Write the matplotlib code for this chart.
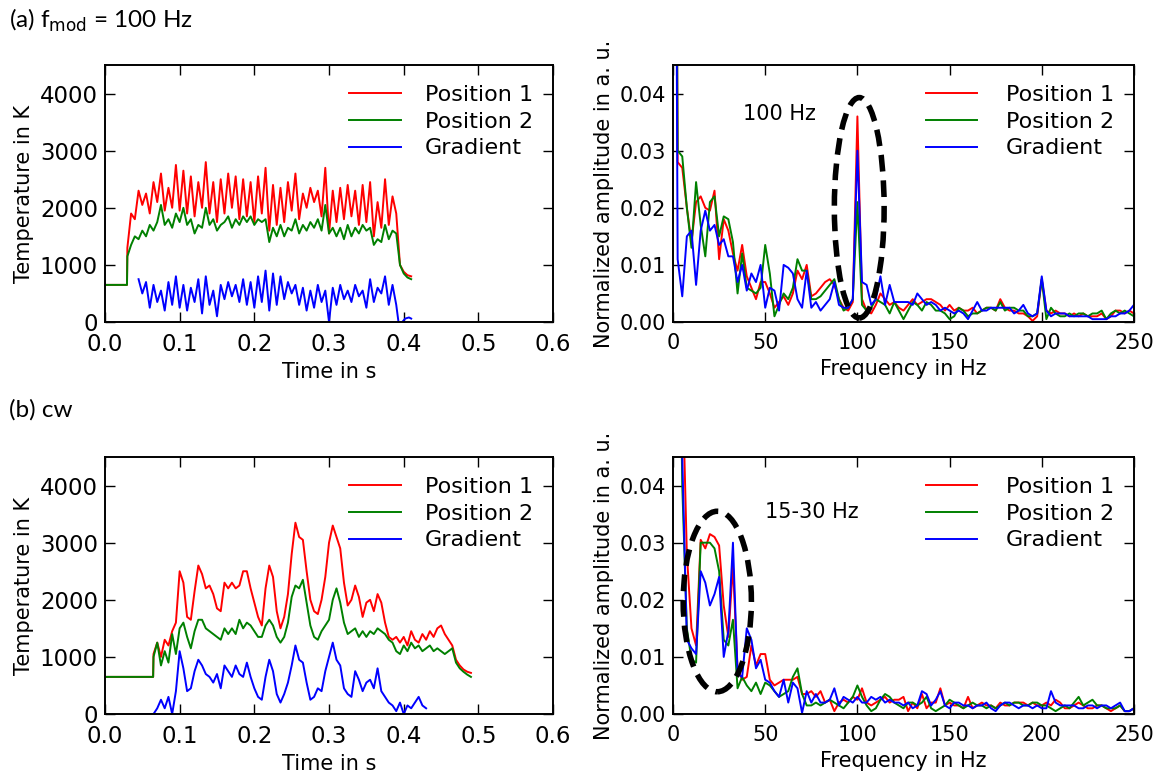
import numpy as np
import matplotlib
matplotlib.use("Agg")
import matplotlib.pyplot as plt
from matplotlib.patches import Ellipse

# ---------------- (a) f_mod = 100 Hz, time signals ----------------
t_a_main = np.round(np.arange(0.030, 0.3901, 0.005), 3)
t_a_pre = [0.0, 0.0295]
t_a_post = [0.395, 0.400, 0.405, 0.410]

pos1_a = [1300, 1900, 1800, 2300, 2050, 2250, 1900, 2450, 2100, 2600,
          1950, 2350, 2000, 2750, 1950, 2650, 1900, 2550, 1850, 2450,
          2000, 2800, 1900, 2450, 1750, 2500, 1900, 2600, 2000, 2550,
          1800, 2500, 1850, 2450, 1750, 2550, 1900, 2700, 1600, 2400,
          1700, 2350, 1750, 2450, 1950, 2600, 1800, 2250, 2000, 2350,
          2100, 2300, 1850, 2700, 1550, 2300, 1750, 2350, 1800, 2400,
          1850, 2300, 1700, 2400, 1750, 2450, 1500, 2100, 1650, 2500,
          1700, 2200, 1900]
pos2_a = [1150, 1350, 1500, 1450, 1600, 1500, 1700, 1600, 1750, 2050,
          1700, 1800, 1650, 1900, 1750, 2000, 1700, 1800, 1550, 1700,
          1650, 2000, 1700, 1800, 1600, 1700, 1750, 1850, 1650, 1800,
          1700, 1850, 1750, 1850, 1700, 1800, 1750, 1800, 1400, 1650,
          1500, 1700, 1500, 1650, 1600, 1800, 1550, 1700, 1600, 1750,
          1650, 1800, 1600, 2050, 1550, 1650, 1500, 1650, 1450, 1700,
          1500, 1650, 1550, 1700, 1600, 1650, 1350, 1450, 1400, 1700,
          1450, 1600, 1550]
pre_a = [650, 650]
pos1_a_post = [1000, 880, 820, 800]
pos2_a_post = [1000, 850, 780, 750]

t_grad_a = np.round(np.arange(0.045, 0.3901, 0.005), 3)
grad_a = [750, 500, 700, 250, 650, 350, 550, 200, 700, 300,
          800, 250, 650, 200, 600, 350, 750, 150, 800, 300,
          550, 100, 650, 400, 700, 450, 650, 350, 750, 300,
          700, 250, 800, 350, 900, 200, 850, 300, 800, 400,
          700, 500, 650, 300, 600, 200, 550, 250, 650, 350,
          550, 0, 600, 300, 650, 400, 550, 350, 650, 450,
          550, 250, 750, 350, 600, 500, 800, 300, 650, 300]
t_grad_a_post = [0.393, 0.398, 0.402, 0.407, 0.410]
grad_a_post = [0, 0, 60, 80, 60]

# ---------------- (b) cw, time signals ----------------
t_b_main = np.round(np.arange(0.065, 0.4901, 0.005), 3)
t_b_pre = [0.0, 0.0645]
pre_b = [650, 650]
pos1_b = [1050, 1250, 1000, 1300, 1200, 1450, 1600, 2500, 2300, 1700,
          1650, 2150, 2600, 2450, 2200, 2250, 2100, 1850, 1800, 2300,
          2200, 2300, 2200, 2250, 2500, 2500, 2200, 1950, 1700, 1550,
          2200, 2600, 2400, 1800, 1500, 1700, 2100, 2800, 3350, 3100,
          3050, 2500, 2000, 1800, 1750, 2000, 2400, 3000, 3300, 3100,
          2900, 2300, 1900, 2000, 2250, 2050, 1700, 1950, 2000, 1800,
          2100, 1950, 1600, 1350, 1300, 1350, 1250, 1350, 1200, 1450,
          1300, 1250, 1400, 1300, 1450, 1350, 1500, 1550, 1400, 1300,
          1200, 950, 850, 780, 740, 720]
pos2_b = [1000, 1250, 850, 1100, 900, 1400, 1050, 1500, 1600, 1350,
          1150, 1450, 1650, 1650, 1500, 1450, 1400, 1350, 1300, 1500,
          1400, 1500, 1400, 1650, 1500, 1600, 1550, 1450, 1350, 1350,
          1550, 1650, 1550, 1350, 1250, 1350, 1600, 2050, 2250, 2200,
          2350, 1950, 1550, 1350, 1300, 1450, 1550, 1650, 2000, 2200,
          1950, 1600, 1400, 1450, 1500, 1350, 1450, 1350, 1450, 1400,
          1500, 1450, 1400, 1300, 1250, 1100, 1050, 1200, 1100, 1250,
          1150, 1200, 1100, 1150, 1200, 1100, 1150, 1100, 1050, 1100,
          1150, 900, 800, 740, 690, 650]

t_grad_b_pre = [0.045, 0.060]
grad_b_pre = [0, 0]
t_grad_b = np.round(np.arange(0.065, 0.4301, 0.005), 3)
grad_b = [0, 100, 250, 100, 300, 0, 400, 1100, 800, 400,
          450, 750, 950, 850, 700, 650, 550, 700, 450, 850,
          750, 650, 850, 700, 650, 900, 650, 450, 300, 250,
          650, 950, 750, 350, 200, 350, 550, 850, 1200, 950,
          900, 550, 250, 300, 450, 400, 750, 1000, 1250, 950,
          850, 450, 350, 300, 750, 600, 400, 550, 600, 450,
          800, 400, 300, 200, 150, 50, 200, 0, 150, 100,
          200, 300, 150, 100]

# ---------------- spectra ----------------
freq = np.arange(0, 250.1, 2.5)

fft1_a = [0.2, 0.028, 0.027, 0.020, 0.014, 0.021, 0.022, 0.020, 0.0195, 0.023, 0.011,
          0.018, 0.016, 0.012, 0.009, 0.0135, 0.008, 0.006, 0.004, 0.007, 0.007,
          0.005, 0.0025, 0.0035, 0.0045, 0.003, 0.005, 0.009, 0.0075, 0.010, 0.0045,
          0.005, 0.006, 0.007, 0.0075, 0.0065, 0.004, 0.0025, 0.002, 0.0035, 0.036,
          0.004, 0.002, 0.0015, 0.003, 0.005, 0.004, 0.003, 0.0035, 0.0025, 0.002,
          0.003, 0.004, 0.003, 0.0035, 0.004, 0.004, 0.0035, 0.003, 0.002, 0.003,
          0.002, 0.0025, 0.002, 0.002, 0.0025, 0.0015, 0.002, 0.0025, 0.0025, 0.002,
          0.004, 0.0025, 0.002, 0.002, 0.0015, 0.0015, 0.001, 0.0002, 0.001, 0.0075,
          0.002, 0.0015, 0.002, 0.0015, 0.0015, 0.001, 0.0015, 0.001, 0.0015, 0.001,
          0.001, 0.001, 0.0015, 0.0005, 0.001, 0.002, 0.002, 0.0015, 0.002, 0.0015]
fft2_a = [0.2, 0.030, 0.029, 0.020, 0.013, 0.0245, 0.017, 0.0115, 0.021, 0.022, 0.015,
          0.0185, 0.018, 0.014, 0.005, 0.012, 0.006, 0.0055, 0.005, 0.006, 0.0135,
          0.0085, 0.001, 0.003, 0.005, 0.004, 0.006, 0.011, 0.009, 0.009, 0.004,
          0.004, 0.0045, 0.0055, 0.0065, 0.0075, 0.004, 0.002, 0.0025, 0.004, 0.021,
          0.003, 0.002, 0.0025, 0.004, 0.0035, 0.003, 0.0015, 0.0035, 0.002, 0.0005,
          0.002, 0.0035, 0.003, 0.002, 0.0035, 0.003, 0.002, 0.002, 0.0015, 0.0005,
          0.001, 0.0025, 0.002, 0.001, 0.0015, 0.0015, 0.002, 0.0025, 0.0025, 0.002,
          0.0035, 0.002, 0.0025, 0.0025, 0.002, 0.002, 0.001, 0.001, 0.0015, 0.0075,
          0.0005, 0.0025, 0.0015, 0.001, 0.001, 0.0015, 0.001, 0.0015, 0.0015, 0.001,
          0.0015, 0.0015, 0.002, 0.0005, 0.0015, 0.002, 0.0015, 0.002, 0.0015, 0.001]
fftg_a = [0.2, 0.011, 0.0045, 0.015, 0.016, 0.0065, 0.016, 0.0195, 0.016, 0.017, 0.0135,
          0.0145, 0.0115, 0.0115, 0.007, 0.010, 0.0055, 0.0085, 0.007, 0.010, 0.0025,
          0.006, 0.0055, 0.002, 0.010, 0.0095, 0.0085, 0.004, 0.0025, 0.009, 0.0025,
          0.0035, 0.002, 0.003, 0.004, 0.007, 0.003, 0.0025, 0.0025, 0.004, 0.030,
          0.007, 0.0065, 0.003, 0.004, 0.008, 0.003, 0.0065, 0.0035, 0.0035, 0.0035,
          0.0035, 0.003, 0.005, 0.004, 0.003, 0.0035, 0.003, 0.002, 0.0025, 0.002,
          0.0015, 0.002, 0.0015, 0.0005, 0.002, 0.0035, 0.002, 0.002, 0.0025, 0.0025,
          0.0025, 0.0025, 0.0025, 0.0015, 0.002, 0.003, 0.0015, 0.001, 0.0015, 0.008,
          0.002, 0.001, 0.0015, 0.0015, 0.0015, 0.001, 0.001, 0.001, 0.001, 0.001,
          0.0005, 0.0005, 0.0005, 0.0005, 0.001, 0.001, 0.0015, 0.0015, 0.002, 0.003]

fft1_b = [0.2, 0.12, 0.06, 0.028, 0.015, 0.012, 0.0305, 0.029, 0.0315, 0.031, 0.0295,
          0.019, 0.0135, 0.026, 0.008, 0.006, 0.0065, 0.012, 0.0085, 0.0105, 0.0105,
          0.006, 0.005, 0.0055, 0.006, 0.006, 0.006, 0.0065, 0.0035, 0.0035, 0.004,
          0.003, 0.004, 0.002, 0.0025, 0.0005, 0.002, 0.0025, 0.002, 0.003, 0.0025,
          0.0045, 0.002, 0.0015, 0.002, 0.0025, 0.003, 0.002, 0.0025, 0.0025, 0.003,
          0.0005, 0.002, 0.001, 0.0035, 0.001, 0.002, 0.002, 0.0045, 0.0015, 0.002,
          0.0015, 0.0015, 0.001, 0.003, 0.001, 0.0015, 0.002, 0.0015, 0.0015, 0.001,
          0.002, 0.0015, 0.0015, 0.002, 0.002, 0.002, 0.0015, 0.002, 0.0015, 0.0015,
          0.002, 0.0015, 0.0025, 0.002, 0.001, 0.001, 0.0015, 0.002, 0.0015, 0.001,
          0.001, 0.0015, 0.0015, 0.001, 0.0005, 0.001, 0.0015, 0.0005, 0.0005, 0.001]
fft2_b = [0.2, 0.1, 0.04, 0.015, 0.0095, 0.009, 0.030, 0.030, 0.030, 0.029, 0.025,
          0.013, 0.012, 0.0165, 0.0045, 0.0065, 0.005, 0.004, 0.0055, 0.0035, 0.0055,
          0.005, 0.004, 0.003, 0.0035, 0.004, 0.0065, 0.008, 0.0035, 0.0015, 0.0015,
          0.002, 0.0015, 0.002, 0.0025, 0.002, 0.0015, 0.001, 0.002, 0.003, 0.005,
          0.003, 0.0015, 0.0005, 0.001, 0.0025, 0.0035, 0.003, 0.002, 0.0015, 0.001,
          0.002, 0.002, 0.0015, 0.002, 0.003, 0.001, 0.0005, 0.001, 0.0015, 0.0025,
          0.002, 0.0015, 0.001, 0.0015, 0.002, 0.0015, 0.0015, 0.001, 0.0015, 0.001,
          0.0015, 0.002, 0.0015, 0.002, 0.002, 0.0015, 0.0015, 0.002, 0.002, 0.0015,
          0.0015, 0.001, 0.0005, 0.001, 0.0015, 0.001, 0.002, 0.003, 0.0015, 0.002,
          0.0025, 0.0015, 0.0015, 0.001, 0.001, 0.001, 0.0015, 0.0005, 0.0005, 0.001]
fftg_b = [0.2, 0.1, 0.045, 0.013, 0.0115, 0.0105, 0.025, 0.023, 0.019, 0.021, 0.024,
          0.010, 0.0145, 0.030, 0.007, 0.0065, 0.015, 0.013, 0.008, 0.0095, 0.006,
          0.0055, 0.004, 0.003, 0.006, 0.002, 0.0055, 0.0045, 0.0002, 0.004, 0.002,
          0.0035, 0.002, 0.002, 0.0025, 0.0045, 0.0015, 0.003, 0.0025, 0.002, 0.003,
          0.002, 0.002, 0.003, 0.0025, 0.003, 0.002, 0.0025, 0.002, 0.002, 0.0015,
          0.002, 0.001, 0.0015, 0.004, 0.0035, 0.0015, 0.0025, 0.004, 0.0015, 0.001,
          0.002, 0.002, 0.0015, 0.0015, 0.001, 0.0015, 0.0015, 0.002, 0.001, 0.0005,
          0.0015, 0.002, 0.002, 0.0015, 0.001, 0.0015, 0.0015, 0.001, 0.0015, 0.001,
          0.001, 0.004, 0.002, 0.0015, 0.0015, 0.0015, 0.0015, 0.001, 0.001, 0.0015,
          0.0015, 0.001, 0.0015, 0.0015, 0.001, 0.0015, 0.002, 0.0005, 0.0005, 0.001]

labels = ["Position 1", "Position 2", "Gradient"]
RED, GREEN, BLUE = "#ff0000", "#008000", "#0000ff"
LW = 1.4

plt.rcParams["font.family"] = ["DejaVu Sans"]

fig = plt.figure(figsize=(11.61, 7.75), dpi=100)
ax_ta = fig.add_axes([0.0904, 0.5845, 0.386, 0.3316])
ax_fa = fig.add_axes([0.5797, 0.5845, 0.397, 0.3316])
ax_tb = fig.add_axes([0.0904, 0.0787, 0.386, 0.3316])
ax_fb = fig.add_axes([0.5797, 0.0787, 0.397, 0.3316])


def style(ax, size):
    ax.tick_params(direction="in", top=True, right=True, length=7,
                   width=1, labelsize=size, pad=5)
    ax.tick_params(axis="x", pad=8)
    for s in ax.spines.values():
        s.set_linewidth(1.4)


# time panel (a)
ax_ta.plot(np.concatenate([t_a_pre, t_a_main, t_a_post]),
           np.concatenate([pre_a, pos1_a, pos1_a_post]), color=RED, lw=LW, label=labels[0])
ax_ta.plot(np.concatenate([t_a_pre, t_a_main, t_a_post]),
           np.concatenate([pre_a, pos2_a, pos2_a_post]), color=GREEN, lw=LW, label=labels[1])
ax_ta.plot(np.concatenate([t_grad_a, t_grad_a_post]),
           np.concatenate([grad_a, grad_a_post]), color=BLUE, lw=LW, label=labels[2])

# time panel (b)
ax_tb.plot(np.concatenate([t_b_pre, t_b_main]), np.concatenate([pre_b, pos1_b]),
           color=RED, lw=LW, label=labels[0])
ax_tb.plot(np.concatenate([t_b_pre, t_b_main]), np.concatenate([pre_b, pos2_b]),
           color=GREEN, lw=LW, label=labels[1])
ax_tb.plot(np.concatenate([t_grad_b_pre, t_grad_b]), np.concatenate([grad_b_pre, grad_b]),
           color=BLUE, lw=LW, label=labels[2])

for ax in (ax_ta, ax_tb):
    ax.set_xlim(0, 0.6)
    ax.set_ylim(0, 4500)
    ax.set_xticks(np.arange(0, 0.61, 0.1))
    ax.set_xticklabels([f"{v:.1f}" for v in np.arange(0, 0.61, 0.1)])
    ax.set_yticks([0, 1000, 2000, 3000, 4000])
    ax.set_xlabel("Time in s", fontsize=15, labelpad=4)
    ax.set_ylabel("Temperature in K", fontsize=15, labelpad=4)
    style(ax, 16.5)
    ax.legend(loc="upper right", frameon=False, fontsize=16, handlelength=2.3,
              handletextpad=1.1, labelspacing=0.3, borderaxespad=0.5)

# spectra
for ax, f1, f2, fg in ((ax_fa, fft1_a, fft2_a, fftg_a), (ax_fb, fft1_b, fft2_b, fftg_b)):
    ax.plot(freq, f1, color=RED, lw=LW, label=labels[0])
    ax.plot(freq, f2, color=GREEN, lw=LW, label=labels[1])
    ax.plot(freq, fg, color=BLUE, lw=LW, label=labels[2])
    ax.set_xlim(0, 250)
    ax.set_ylim(0, 0.045)
    ax.set_xticks([0, 50, 100, 150, 200, 250])
    ax.set_yticks([0, 0.01, 0.02, 0.03, 0.04])
    ax.set_yticklabels(["0.00", "0.01", "0.02", "0.03", "0.04"])
    ax.set_xlabel("Frequency in Hz", fontsize=15, labelpad=4)
    ax.set_ylabel("Normalized amplitude in a. u.", fontsize=15, labelpad=4)
    style(ax, 15)
    ax.legend(loc="upper right", frameon=False, fontsize=16, handlelength=2.3,
              handletextpad=1.3, labelspacing=0.3, borderaxespad=0.5)

ax_fa.add_patch(Ellipse((101, 0.0200), 27, 0.0386, fill=False, ec="black",
                        lw=4, ls=(0, (3, 1.6)), zorder=5))
ax_fa.text(38, 0.0365, "100 Hz", fontsize=15, va="center")
ax_fb.add_patch(Ellipse((24, 0.0197), 37, 0.0316, fill=False, ec="black",
                        lw=4, ls=(0, (3, 1.6)), zorder=5))
ax_fb.text(50, 0.0353, "15-30 Hz", fontsize=15, va="center")

fig.text(0.008, 0.974, r"(a) f$_{\mathrm{mod}}$ = 100 Hz", fontsize=17.5,
         family=["Lato", "DejaVu Sans"], va="center")
fig.text(0.008, 0.471, "(b) cw", fontsize=17.5, family=["Lato", "DejaVu Sans"], va="center")

fig.savefig("out.png", dpi=100, facecolor="white")
